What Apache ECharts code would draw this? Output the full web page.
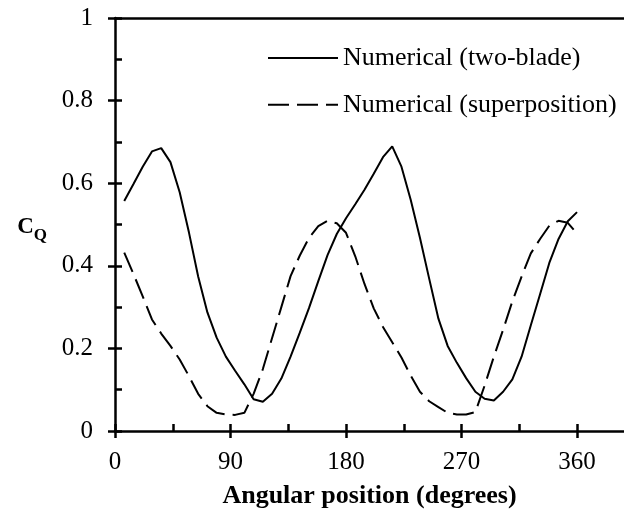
<!DOCTYPE html>
<html><head><meta charset="utf-8">
<script src="https://cdn.jsdelivr.net/npm/echarts@6/dist/echarts.min.js"></script>
<style>html,body{margin:0;padding:0;background:#fff}#c{width:624px;height:518px}</style>
</head><body><div id="c"></div>
<script>
const angles = [7.2,14.4,21.6,28.8,36,43.2,50.4,57.6,64.8,72,79.2,86.4,93.6,100.8,108,115.2,122.4,129.6,136.8,144,151.2,158.4,165.6,172.8,180,187.2,194.4,201.6,208.8,216,223.2,230.4,237.6,244.8,252,259.2,266.4,273.6,280.8,288,295.2,302.4,309.6,316.8,324,331.2,338.4,345.6,352.8,360];
const twoBlade = [0.557,0.598,0.640,0.677,0.685,0.651,0.578,0.481,0.374,0.287,0.226,0.180,0.146,0.113,0.077,0.071,0.090,0.127,0.180,0.238,0.298,0.363,0.426,0.477,0.515,0.549,0.584,0.623,0.663,0.689,0.640,0.560,0.468,0.369,0.272,0.206,0.165,0.128,0.095,0.078,0.074,0.095,0.125,0.180,0.256,0.331,0.407,0.465,0.508,0.530];
const superposition = [0.432,0.380,0.326,0.270,0.236,0.206,0.173,0.133,0.090,0.060,0.044,0.040,0.039,0.044,0.090,0.150,0.225,0.300,0.375,0.425,0.468,0.496,0.509,0.503,0.480,0.423,0.356,0.297,0.252,0.215,0.178,0.134,0.095,0.072,0.058,0.044,0.040,0.040,0.046,0.110,0.180,0.245,0.314,0.374,0.430,0.465,0.497,0.509,0.504,0.478];
const seriesNames = ['Numerical (two-blade)', 'Numerical (superposition)'];
const xTickLabels = ['0','90','180','270','360'];
const xMinorTicks = [0,45,90,135,180,225,270,315,360];
const yTickLabels = ['0','0.2','0.4','0.6','0.8','1'];
const xTitle = 'Angular position (degrees)';

const FONT = "'Liberation Serif', 'Times New Roman', serif";
const XMAX = 396.6;
const gridBox = {left: 115, right: 0, top: 18, bottom: 87};
const axisLineStyle = {color: '#000', width: 2.5};
const xMajor = xTickLabels.map(Number);
const chart = echarts.init(document.getElementById('c'), null, {renderer: 'canvas'});
chart.setOption({
  animation: false,
  backgroundColor: '#fff',
  grid: [Object.assign({}, gridBox), Object.assign({}, gridBox)],
  legend: {
    orient: 'vertical', left: 262, top: 40, itemWidth: 70, itemHeight: 26, itemGap: 20.7,
    itemStyle: {opacity: 0},
    textStyle: {fontFamily: FONT, fontSize: 26, color: '#000'},
    data: seriesNames
  },
  xAxis: [
    {gridIndex: 0, type: 'value', min: 0, max: XMAX, interval: 90, position: 'bottom',
     axisLine: {show: true, onZero: false, lineStyle: axisLineStyle},
     axisTick: {show: true, inside: false, length: 7, customValues: xMajor, lineStyle: {color: '#000', width: 2.5}},
     axisLabel: {show: true, margin: 19, fontFamily: FONT, fontSize: 25, color: '#000', customValues: xMajor,
       formatter: v => xTickLabels.includes(String(v)) ? String(v) : ''},
     splitLine: {show: false},
     name: xTitle, nameLocation: 'middle', nameGap: 52, nameMoveOverlap: false,
     nameTextStyle: {fontFamily: FONT, fontSize: 26, fontWeight: 'bold', color: '#000'}},
    {gridIndex: 1, type: 'value', min: 0, max: XMAX, interval: 45, position: 'bottom',
     axisLine: {show: false, onZero: false},
     axisTick: {show: true, inside: true, length: 7, customValues: xMinorTicks, lineStyle: {color: '#000', width: 2.5}},
     axisLabel: {show: false}, splitLine: {show: false}},
    {gridIndex: 0, type: 'value', min: 0, max: XMAX, position: 'top',
     axisLine: {show: true, onZero: false, lineStyle: axisLineStyle},
     axisTick: {show: false}, axisLabel: {show: false}, splitLine: {show: false}}
  ],
  yAxis: [
    {gridIndex: 0, type: 'value', min: 0, max: 1, interval: 0.2,
     axisLine: {show: true, onZero: false, lineStyle: axisLineStyle},
     axisTick: {show: true, inside: false, length: 7, lineStyle: {color: '#000', width: 2.5}},
     axisLabel: {show: true, margin: 22, fontFamily: FONT, fontSize: 25, color: '#000',
       formatter: v => yTickLabels.includes(String(v)) ? String(v) : ''},
     splitLine: {show: false},
     name: '{c|C}{q|Q}', nameLocation: 'middle', nameRotate: 0, nameGap: 68, nameMoveOverlap: false,
     nameTextStyle: {fontFamily: FONT, color: '#000', padding: [6, 0, 0, 0],
       rich: {
         c: {fontFamily: FONT, fontSize: 23, fontWeight: 'bold', color: '#000', lineHeight: 23, verticalAlign: 'top'},
         q: {fontFamily: FONT, fontSize: 17, fontWeight: 'bold', color: '#000', lineHeight: 17, verticalAlign: 'top', padding: [11, 0, 0, 0]}
       }}},
    {gridIndex: 1, type: 'value', min: 0, max: 1, interval: 0.1,
     axisLine: {show: false, onZero: false},
     axisTick: {show: true, inside: true, length: 7, lineStyle: {color: '#000', width: 2.5}},
     axisLabel: {show: false}, splitLine: {show: false}}
  ],
  series: [
    {name: seriesNames[0], type: 'line', xAxisIndex: 0, yAxisIndex: 0, showSymbol: false, symbol: 'none',
     data: angles.map((a, i) => [a, twoBlade[i]]),
     lineStyle: {color: '#000', width: 2, type: 'solid'}, itemStyle: {color: '#000'}},
    {name: seriesNames[1], type: 'line', xAxisIndex: 0, yAxisIndex: 0, showSymbol: false, symbol: 'none',
     data: angles.map((a, i) => [a, superposition[i]]),
     lineStyle: {color: '#000', width: 2, type: [21, 8]}, itemStyle: {color: '#000'}}
  ]
});
</script>
</body></html>
